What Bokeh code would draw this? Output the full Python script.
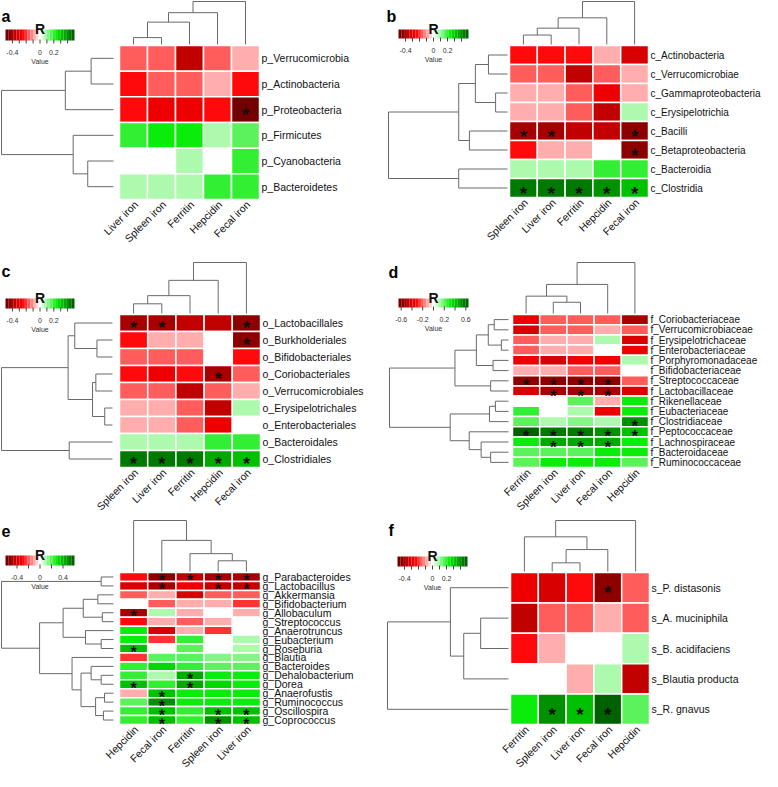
import math
from bokeh.plotting import figure
from bokeh.models import Range1d, LinearColorMapper, ColumnDataSource
from bokeh.layouts import gridplot
from bokeh.embed import file_html
from bokeh.resources import INLINE
from bokeh.core.properties import value

FONT = "Liberation Sans"

# ---------------- data ----------------
cols_a = ["Liver iron", "Spleen iron", "Ferritin", "Hepcidin", "Fecal iron"]
rows_a = ["p_Verrucomicrobia", "p_Actinobacteria", "p_Proteobacteria", "p_Firmicutes",
          "p_Cyanobacteria", "p_Bacteroidetes"]
r_a = [[-0.15, -0.15, -0.38, -0.15, -0.08],
       [-0.25, -0.15, -0.15, -0.08, -0.26],
       [-0.26, -0.30, -0.30, -0.26, -0.47],
       [0.20, 0.25, 0.25, 0.08, 0.15],
       [0.00, 0.00, 0.08, 0.00, 0.20],
       [0.08, 0.08, 0.08, 0.20, 0.20]]
sig_a = [(2, 4)]
colden_a = [(0, 1, 0.16), (5, 2, 0.52), (6, 3, 0.74), (7, 4, 1.0)]
rowden_a = [(0, 1, 0.20), (6, 2, 0.43), (4, 5, 0.23), (3, 8, 0.36), (7, 9, 1.0)]

cols_b = ["Spleen iron", "Liver iron", "Ferritin", "Hepcidin", "Fecal iron"]
rows_b = ["c_Actinobacteria", "c_Verrucomicrobiae", "c_Gammaproteobacteria", "c_Erysipelotrichia",
          "c_Bacilli", "c_Betaproteobacteria", "c_Bacteroidia", "c_Clostridia"]
r_b = [[-0.26, -0.26, -0.25, -0.08, -0.33],
       [-0.15, -0.16, -0.38, -0.16, -0.08],
       [-0.08, -0.08, -0.17, -0.28, -0.08],
       [-0.08, -0.08, -0.17, -0.37, 0.08],
       [-0.42, -0.42, -0.35, -0.35, -0.45],
       [-0.26, -0.08, -0.08, 0.00, -0.45],
       [0.08, 0.08, 0.08, 0.20, 0.20],
       [0.45, 0.45, 0.45, 0.40, 0.30]]
sig_b = [(4, 0), (4, 1), (4, 4), (5, 4), (7, 0), (7, 1), (7, 2), (7, 3), (7, 4)]
colden_b = [(0, 1, 0.22), (5, 2, 0.38), (6, 3, 0.62), (7, 4, 1.0)]
rowden_b = [(0, 1, 0.16), (2, 3, 0.10), (8, 9, 0.27), (4, 5, 0.32), (10, 11, 0.41),
            (6, 7, 0.41), (12, 13, 1.0)]

cols_c = ["Spleen iron", "Liver iron", "Ferritin", "Hepcidin", "Fecal iron"]
rows_c = ["o_Lactobacillales", "o_Burkholderiales", "o_Bifidobacteriales", "o_Coriobacteriales",
          "o_Verrucomicrobiales", "o_Erysipelotrichales", "o_Enterobacteriales",
          "o_Bacteroidales", "o_Clostridiales"]
r_c = [[-0.42, -0.42, -0.35, -0.35, -0.45],
       [-0.26, -0.08, -0.08, 0.00, -0.45],
       [-0.16, -0.16, -0.16, 0.00, -0.26],
       [-0.26, -0.27, -0.26, -0.42, -0.16],
       [-0.16, -0.16, -0.38, -0.16, -0.08],
       [-0.08, -0.08, -0.17, -0.37, 0.08],
       [-0.08, -0.08, -0.17, -0.28, 0.00],
       [0.08, 0.08, 0.08, 0.20, 0.20],
       [0.45, 0.45, 0.45, 0.35, 0.33]]
sig_c = [(0, 0), (0, 1), (0, 4), (1, 4), (3, 3), (8, 0), (8, 1), (8, 2), (8, 3), (8, 4)]
colden_c = [(0, 1, 0.19), (5, 2, 0.35), (6, 3, 0.65), (7, 4, 1.0)]
rowden_c = [(1, 2, 0.14), (0, 9, 0.34), (5, 6, 0.07), (3, 4, 0.15), (12, 11, 0.18),
            (10, 13, 0.40), (7, 8, 0.39), (14, 15, 1.0)]

cols_d = ["Ferritin", "Spleen iron", "Liver iron", "Fecal iron", "Hepcidin"]
rows_d = ["f_Coriobacteriaceae", "f_Verrucomicrobiaceae", "f_Erysipelotrichaceae",
          "f_Enterobacteriaceae", "f_Porphyromonadaceae", "f_Bifidobacteriaceae",
          "f_Streptococcaceae", "f_Lactobacillaceae", "f_Rikenellaceae", "f_Eubacteriaceae",
          "f_Clostridiaceae", "f_Peptococcaceae", "f_Lachnospiraceae", "f_Bacteroidaceae",
          "f_Ruminococcaceae"]
r_d = [[-0.36, -0.22, -0.22, -0.22, -0.50],
       [-0.40, -0.22, -0.22, -0.12, -0.22],
       [-0.22, -0.10, -0.10, 0.10, -0.42],
       [-0.22, -0.10, -0.10, 0.00, -0.36],
       [-0.36, -0.42, -0.36, -0.36, 0.10],
       [-0.12, -0.12, -0.20, -0.20, 0.00],
       [-0.55, -0.58, -0.56, -0.58, -0.22],
       [-0.40, -0.52, -0.50, -0.52, -0.40],
       [0.00, 0.00, 0.20, -0.12, 0.30],
       [0.28, 0.00, 0.12, -0.36, 0.30],
       [0.20, 0.12, 0.14, 0.12, 0.50],
       [0.60, 0.58, 0.58, 0.50, 0.42],
       [0.32, 0.45, 0.45, 0.48, 0.30],
       [0.20, 0.20, 0.20, 0.32, 0.30],
       [0.20, 0.32, 0.32, 0.32, 0.20]]
sig_d = [(6, 0), (6, 1), (6, 2), (6, 3), (7, 1), (7, 2), (7, 3), (10, 4), (11, 0), (11, 1),
         (11, 2), (11, 3), (11, 4), (12, 1), (12, 2), (12, 3)]
colden_d = [(1, 2, 0.22), (0, 5, 0.34), (6, 3, 0.57), (7, 4, 1.0)]
rowden_d = [(0, 1, 0.12), (2, 3, 0.06), (15, 16, 0.17), (4, 5, 0.13), (17, 18, 0.27),
            (6, 7, 0.15), (19, 20, 0.45), (8, 9, 0.11), (22, 10, 0.16), (13, 14, 0.15),
            (12, 24, 0.23), (11, 25, 0.33), (23, 26, 0.49), (21, 27, 1.0)]

cols_e = ["Hepcidin", "Fecal iron", "Ferritin", "Spleen iron", "Liver iron"]
rows_e = ["g_Parabacteroides", "g_Lactobacillus", "g_Akkermansia", "g_Bifidobacterium",
          "g_Allobaculum", "g_Streptococcus", "g_Anaerotruncus", "g_Eubacterium", "g_Roseburia",
          "g_Blautia", "g_Bacteroides", "g_Dehalobacterium", "g_Dorea", "g_Anaerofustis",
          "g_Ruminococcus", "g_Oscillospira", "g_Coprococcus"]
r_e = [[-0.31, -0.52, -0.42, -0.48, -0.50],
       [-0.38, -0.50, -0.34, -0.45, -0.45],
       [-0.20, -0.10, -0.40, -0.20, -0.20],
       [0.00, -0.20, -0.12, -0.12, -0.22],
       [-0.50, 0.10, -0.12, 0.00, -0.10],
       [-0.31, -0.12, -0.20, -0.12, 0.00],
       [0.28, -0.40, -0.12, -0.22, 0.00],
       [0.28, -0.22, 0.26, 0.00, 0.10],
       [0.40, 0.00, 0.18, 0.00, 0.10],
       [-0.22, 0.18, 0.20, 0.12, 0.12],
       [0.26, 0.33, 0.26, 0.20, 0.18],
       [0.26, 0.10, 0.42, 0.30, 0.28],
       [0.40, 0.26, 0.45, 0.35, 0.30],
       [-0.10, 0.40, 0.28, 0.28, 0.28],
       [0.18, 0.46, 0.28, 0.28, 0.28],
       [0.26, 0.40, 0.26, 0.40, 0.38],
       [0.26, 0.40, 0.26, 0.46, 0.38]]
sig_e = [(0, 1), (0, 2), (0, 3), (0, 4), (1, 1), (1, 3), (1, 4), (4, 0), (8, 0), (11, 2),
         (12, 0), (12, 2), (13, 1), (14, 1), (15, 1), (15, 3), (15, 4), (16, 1), (16, 3), (16, 4)]
colden_e = [(3, 4, 0.21), (2, 5, 0.35), (1, 6, 0.61), (0, 7, 1.0)]
rowden_e = [(0, 1, 0.11), (2, 3, 0.14), (4, 5, 0.10), (18, 19, 0.27), (7, 8, 0.11),
            (6, 21, 0.25), (20, 22, 0.45), (11, 12, 0.11), (10, 24, 0.20), (13, 14, 0.08),
            (15, 16, 0.09), (26, 27, 0.16), (25, 28, 0.29), (9, 29, 0.37), (23, 30, 0.66),
            (17, 31, 1.0)]

cols_f = ["Ferritin", "Spleen iron", "Liver iron", "Fecal iron", "Hepcidin"]
rows_f = ["s_P. distasonis", "s_A. muciniphila", "s_B. acidifaciens", "s_Blautia producta",
          "s_R. gnavus"]
r_f = [[-0.27, -0.31, -0.26, -0.45, -0.15],
       [-0.36, -0.15, -0.15, -0.08, -0.15],
       [-0.26, -0.08, 0.00, 0.00, 0.08],
       [0.00, 0.00, -0.08, 0.08, -0.37],
       [0.22, 0.40, 0.30, 0.46, 0.15]]
sig_f = [(0, 3), (4, 1), (4, 2), (4, 3)]
colden_f = [(1, 2, 0.17), (5, 3, 0.43), (0, 6, 0.68), (7, 4, 1.0)]
rowden_f = [(1, 2, 0.23), (5, 3, 0.37), (0, 6, 0.48), (7, 4, 1.0)]

# colour-key ranges, tick marks and tick labels
key_a = (0.5, [-0.4, -0.3, -0.2, -0.1, 0, 0.1, 0.2, 0.3, 0.4], ["-0.4", "0", "0.2"], [-0.4, 0, 0.2])
key_d = (0.65, [-0.6, -0.4, -0.2, 0, 0.2, 0.4, 0.6], ["-0.6", "-0.2", "0.2", "0.6"], [-0.6, -0.2, 0.2, 0.6])
key_e = (0.6, [-0.4, -0.2, 0, 0.2, 0.4], ["-0.4", "0", "0.4"], [-0.4, 0, 0.4])


# ---------------- styling helpers ----------------
def make_palette(n):
    anchors = [(-1.0, (100, 0, 0)), (-0.75, (185, 0, 0)), (-0.5, (255, 0, 0)),
               (0.0, (255, 255, 255)), (0.5, (0, 235, 0)), (0.75, (0, 160, 0)),
               (1.0, (0, 85, 0))]
    out = []
    for i in range(n):
        t = -1 + (i + 0.5) * 2 / n
        c = anchors[-1][1]
        for (t0, c0), (t1, c1) in zip(anchors, anchors[1:]):
            if t0 <= t <= t1:
                f = (t - t0) / (t1 - t0)
                c = tuple(round(a + (b - a) * f) for a, b in zip(c0, c1))
                break
        out.append("#%02x%02x%02x" % c)
    return out


PAL = make_palette(25)


def dendro_segments(links, n):
    pos = [float(i) for i in range(n)]
    ht = [0.0] * n
    segs = []
    for c1, c2, h in links:
        for c in (c1, c2):
            segs.append((pos[c], ht[c], pos[c], h))
        segs.append((pos[c1], h, pos[c2], h))
        pos.append((pos[c1] + pos[c2]) / 2)
        ht.append(h)
    return segs


def panel(letter, cols, rows, vals, sig, colden, rowden, key, g):
    R, tmarks, tlabels, tlabel_vals = key
    ncol, nrow = len(cols), len(rows)
    L, Rt, T, B = g["heat"]
    fw, fh = g["fw"], g["fh"]
    cw = (Rt - L) / ncol
    ch = (B - T) / nrow
    x0 = -0.5 - L / cw
    x1 = x0 + fw / cw
    y1 = nrow - 0.5 + T / ch
    y0 = y1 - fh / ch

    def X(px):
        return x0 + px / cw

    def Y(py):
        return y1 - py / ch

    p = figure(width=fw, height=fh, x_range=Range1d(x0, x1), y_range=Range1d(y0, y1),
               x_axis_location=None, y_axis_location=None, tools="",
               toolbar_location=None, output_backend="svg", min_border=0)
    p.outline_line_color = None
    p.grid.visible = False
    p.background_fill_color = "white"
    p.border_fill_color = "white"

    # heatmap cells
    xs, ys, vs = [], [], []
    for i, row in enumerate(vals):
        for j, v in enumerate(row):
            xs.append(j)
            ys.append(nrow - 1 - i)
            vs.append(v)
    mapper = LinearColorMapper(palette=PAL, low=-R, high=R)
    src = ColumnDataSource(dict(x=xs, y=ys, v=vs))
    p.rect(x="x", y="y", width=1, height=1, source=src,
           fill_color={"field": "v", "transform": mapper},
           line_color="white", line_width=1.5)

    # significance stars
    sx = [j for i, j in sig]
    sy = [nrow - 1 - i for i, j in sig]
    p.text(x=sx, y=sy, text=["*"] * len(sig), text_align="center", text_baseline="middle",
           text_font=value(FONT), text_font_style="bold", text_font_size=g["star"],
           text_color="#111111", y_offset=g["star_off"])

    # column dendrogram
    ext_c = T - g["col_gap"] - g["col_root"]
    base_c = nrow - 0.5 + g["col_gap"] / ch
    segs = dendro_segments(colden, ncol)
    p.segment(x0=[s[0] for s in segs], y0=[base_c + s[1] * ext_c / ch for s in segs],
              x1=[s[2] for s in segs], y1=[base_c + s[3] * ext_c / ch for s in segs],
              line_color="#6a6a6a", line_width=1)

    # row dendrogram
    ext_r = L - g["row_gap"] - g["row_root"]
    base_r = -0.5 - g["row_gap"] / cw
    segs = dendro_segments(rowden, nrow)
    p.segment(x0=[base_r - s[1] * ext_r / cw for s in segs], y0=[nrow - 1 - s[0] for s in segs],
              x1=[base_r - s[3] * ext_r / cw for s in segs], y1=[nrow - 1 - s[2] for s in segs],
              line_color="#6a6a6a", line_width=1)

    # column names (rotated, ending under each column) and row names (right of the rows)
    p.text(x=[j + 2.5 / cw for j in range(ncol)], y=[Y(B + 3)] * ncol, text=cols,
           angle=math.pi / 4, text_align="right", text_baseline="middle",
           text_font=value(FONT), text_font_size="10.5px", text_color="#111111")
    p.text(x=[X(Rt + 2)] * nrow, y=[nrow - 1 - i for i in range(nrow)], text=rows,
           text_align="left", text_baseline="middle",
           text_font=value(FONT), text_font_size=g["rowfont"], text_color="#111111")

    # colour key
    lx0, lx1, ly0, ly1 = g["key"]
    n = len(PAL)
    w = (lx1 - lx0) / n
    p.quad(left=[X(lx0 + k * w) for k in range(n)], right=[X(lx0 + (k + 1) * w) for k in range(n)],
           top=[Y(ly0)] * n, bottom=[Y(ly1)] * n, fill_color=PAL, line_color=None)

    def kx(v):
        return X(lx0 + (v + R) / (2 * R) * (lx1 - lx0))

    p.segment(x0=[kx(v) for v in tmarks], y0=[Y(ly1 - 1)] * len(tmarks),
              x1=[kx(v) for v in tmarks], y1=[Y(ly1 + 3)] * len(tmarks),
              line_color="#444444", line_width=1)
    p.text(x=[kx(v) for v in tlabel_vals], y=[Y(ly1 + 12)] * len(tlabels), text=tlabels,
           text_align="center", text_baseline="middle", text_font=value(FONT),
           text_font_size="7px", text_color="#333333")
    p.text(x=[X((lx0 + lx1) / 2)], y=[Y(ly1 + 21)], text=["Value"], text_align="center",
           text_baseline="middle", text_font=value(FONT), text_font_size="7px",
           text_color="#333333")
    p.text(x=[X((lx0 + lx1) / 2)], y=[Y(ly0 - 1)], text=["R"], text_align="center",
           text_baseline="alphabetic", text_font=value(FONT), text_font_style="bold",
           text_font_size="14px", text_color="#111111")

    # panel letter
    p.text(x=[X(g["letter"][0])], y=[Y(g["letter"][1])], text=[letter], text_align="left",
           text_baseline="alphabetic", text_font=value(FONT), text_font_style="bold",
           text_font_size="16px", text_color="#000000")
    return p


geo = {
    "a": dict(fw=381, fh=246, heat=(119, 259, 45, 199), col_root=1, col_gap=1, row_root=1,
              row_gap=6, key=(5, 74, 29, 40), letter=(1, 16), star="19px", star_off=5,
              rowfont="10.5px"),
    "b": dict(fw=381, fh=246, heat=(128, 267, 45, 197), col_root=1, col_gap=1, row_root=7,
              row_gap=2, key=(17, 87, 29, 38), letter=(5, 16), star="19px", star_off=5,
              rowfont="10px"),
    "c": dict(fw=381, fh=268, heat=(119, 260, 68, 221), col_root=16, col_gap=1, row_root=1,
              row_gap=7, key=(5, 74, 52, 62), letter=(1, 25), star="18px", star_off=5,
              rowfont="10.5px"),
    "d": dict(fw=381, fh=268, heat=(131, 267, 68, 221), col_root=16, col_gap=1, row_root=8,
              row_gap=4, key=(17, 87, 52, 61), letter=(7, 26), star="17px", star_off=5,
              rowfont="10px"),
    "e": dict(fw=381, fh=257, heat=(119, 260, 58, 210), col_root=6, col_gap=1, row_root=1,
              row_gap=6, key=(5, 74, 41, 51), letter=(1, 16), star="16px", star_off=4,
              rowfont="10.5px"),
    "f": dict(fw=381, fh=257, heat=(129, 268, 58, 210), col_root=6, col_gap=1, row_root=6,
              row_gap=2, key=(16, 86, 42, 52), letter=(7, 16), star="19px", star_off=5,
              rowfont="10.5px"),
}

pa = panel("a", cols_a, rows_a, r_a, sig_a, colden_a, rowden_a, key_a, geo["a"])
pb = panel("b", cols_b, rows_b, r_b, sig_b, colden_b, rowden_b, key_a, geo["b"])
pc = panel("c", cols_c, rows_c, r_c, sig_c, colden_c, rowden_c, key_a, geo["c"])
pd_ = panel("d", cols_d, rows_d, r_d, sig_d, colden_d, rowden_d, key_d, geo["d"])
pe = panel("e", cols_e, rows_e, r_e, sig_e, colden_e, rowden_e, key_e, geo["e"])
pf = panel("f", cols_f, rows_f, r_f, sig_f, colden_f, rowden_f, key_a, geo["f"])

grid = gridplot([[pa, pb], [pc, pd_], [pe, pf]], toolbar_location=None)
open("out.html", "w").write(file_html(grid, INLINE))
